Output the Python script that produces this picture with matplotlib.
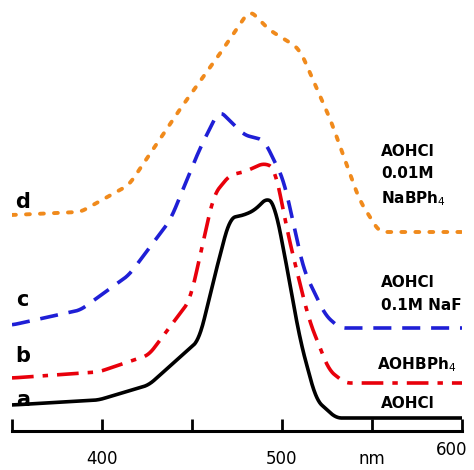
import matplotlib
matplotlib.use("Agg")
import matplotlib.pyplot as plt
import numpy as np

# wavelengths (nm) and signal heights (arbitrary units, baseline offsets included)
x_a = [350, 398, 426, 454, 462, 471, 479, 485, 492, 496, 502, 510, 519, 530, 600]
y_a = [26, 31, 46, 91, 151, 213, 216, 221, 234, 226, 171, 91, 31, 13, 13]
x_b = [350, 398, 426, 449, 462, 471, 479, 490, 496, 504, 515, 526, 535, 600]
y_b = [53, 59, 76, 131, 236, 256, 259, 268, 263, 191, 111, 61, 48, 48]
x_c = [350, 388, 415, 438, 454, 465, 479, 490, 501, 512, 524, 532, 600]
y_c = [106, 121, 156, 211, 281, 321, 296, 291, 251, 161, 116, 103, 103]
x_d = [350, 388, 415, 443, 465, 482, 493, 504, 510, 527, 543, 554, 600]
y_d = [216, 219, 246, 321, 376, 421, 401, 389, 381, 311, 231, 199, 199]

series = [
    (x_a, y_a, "black", "-", 2.6),
    (x_b, y_b, "#e8000b", (0, (6, 2.5, 1.5, 2.5)), 2.6),
    (x_c, y_c, "#1f1fd6", (0, (5, 3)), 2.6),
    (x_d, y_d, "#f08a1c", (0, (1, 2.6)), 2.8),
]

fig = plt.figure(figsize=(4.74, 4.70), dpi=100)
ax = fig.add_axes([12/474, 39/470, 450/474, 431/470])

def smooth(xs, ys):
    xx = np.linspace(350, 600, 1000)
    yy = np.interp(xx, xs, ys)
    k = 25
    pad = np.concatenate([np.full(k, yy[0]), yy, np.full(k, yy[-1])])
    w = np.ones(k) / k
    s = np.convolve(pad, w, mode="same")[k:-k]
    return xx, s

for xs, ys, c, ls, lw in series:
    xx, yy = smooth(xs, ys)
    ax.plot(xx, yy, color=c, linestyle=ls, linewidth=lw,
            dash_capstyle="round" if ls == (0, (1, 2.6)) else "butt")

ax.set_xlim(350, 600)
ax.set_ylim(0, 431)
for s in ["top", "left", "right"]:
    ax.spines[s].set_visible(False)
ax.spines["bottom"].set_linewidth(2.2)
ax.set_yticks([])
ax.set_xticks([350, 400, 450, 500, 550, 600])
ax.set_xticklabels(["", "400", "", "500", "nm", ""], fontsize=12)
ax.tick_params(axis="x", direction="in", length=9, width=2, pad=-28)
ax.tick_params(axis="x", pad=14)
ax.text(594, -19, "600", fontsize=12, ha="center", va="center", clip_on=False)

for lab, y in [("a", 31), ("b", 75), ("c", 131), ("d", 229)]:
    ax.text(356, y, lab, fontsize=15, fontweight="bold", ha="center", va="center")

ax.text(555, 27, "AOHCl", fontsize=11, fontweight="bold", ha="left", va="center")
ax.text(553, 66, "AOHBPh$_4$", fontsize=11, fontweight="bold", ha="left", va="center")
ax.text(555, 137, "AOHCl\n0.1M NaF", fontsize=11, fontweight="bold", ha="left", va="center", linespacing=1.6)
ax.text(555, 255, "AOHCl\n0.01M\nNaBPh$_4$", fontsize=11, fontweight="bold", ha="left", va="center", linespacing=1.6)

fig.savefig("out.png", dpi=100)
